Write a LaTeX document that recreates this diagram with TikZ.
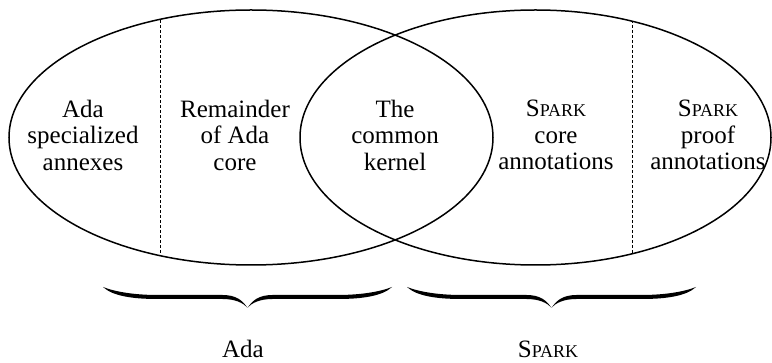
\documentclass[tikz,border=0pt]{standalone}
\usepackage{fontspec}
\setmainfont{Liberation Serif}
\newcommand{\sparkname}{S{\fontsize{18}{18}\selectfont PARK}}
\tikzset{
	region/.style={align=center, font=\fontsize{25}{26.5}\selectfont},
	setline/.style={line width=1.5pt},
	divider/.style={dash pattern=on 3pt off 2pt, line width=0.7pt},
	curlybrace/.pic={
		\foreach \s in {1,-1}{
			\fill[xscale=\s] (-144.5,0) .. controls (-135,9) and (-115,12) .. (-90,12)
				-- (-25,12) .. controls (-12,12) and (-4,16) .. (0,21)
				.. controls (-5,13) and (-12,8) .. (-25,8)
				-- (-90,8) .. controls (-112,8) and (-132,5) .. (-144.5,0) -- cycle;
		}
	},
}

\begin{document}
\begin{tikzpicture}[x=1pt,y=-1pt]
	\useasboundingbox (0,0) rectangle (772,363);

	% the two languages
	\draw[setline] (251,137.5) ellipse [x radius=242pt, y radius=127.5pt];
	\draw[setline] (535.5,137.5) ellipse [x radius=235.5pt, y radius=127.5pt];

	% dashed dividers
	\begin{scope}
		\clip (251,137.5) ellipse [x radius=242pt, y radius=127.5pt];
		\draw[divider] (160,0) -- (160,300);
	\end{scope}
	\begin{scope}
		\clip (535.5,137.5) ellipse [x radius=235.5pt, y radius=127.5pt];
		\draw[divider] (632,0) -- (632,300);
	\end{scope}

	\node (A) [region] at (83,135) {Ada\\specialized\\annexes};
	\node (B) [region] at (235,135) {Remainder\\of Ada\\core};
	\node (C) [region] at (395,135) {The\\common\\kernel};
	\node (D) [region] at (556,135) {\sparkname\\core\\annotations};
	\node (E) [region] at (708,135) {\sparkname\\proof\\annotations};

	% braces
	\coordinate (adabrace) at (247.5,287);
	\coordinate (sparkbrace) at (551.5,287);
	\pic at (adabrace) {curlybrace};
	\pic at (sparkbrace) {curlybrace};

	\node (a) [region, anchor=base] at (243,358) {Ada};
	\node (b) [region, anchor=base] at (548,358) {\sparkname};
\end{tikzpicture}
\end{document}
